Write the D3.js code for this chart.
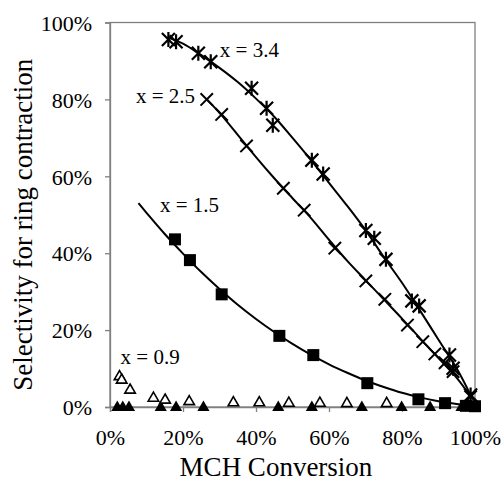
<!DOCTYPE html>
<html>
<head>
<meta charset="utf-8">
<script src="https://cdn.jsdelivr.net/npm/d3@7"></script>
<style>
  html, body { margin: 0; padding: 0; background: #fff; }
</style>
</head>
<body>
<svg id="chart" width="502" height="483"></svg>
<script>
// Tick values (percent)
const xTicks = [0, 20, 40, 60, 80, 100];
const yTicks = [0, 20, 40, 60, 80, 100];

// x = 3.4 (asterisks)
const conv34 = [16.0, 18.1, 24.2, 27.6, 38.8, 42.9, 44.6, 55.3, 58.4, 70.1, 72.4, 75.6, 82.7, 84.7, 93.0, 94.0, 98.8];
const sel34  = [95.6, 95.0, 92.0, 89.8, 82.9, 77.7, 73.3, 64.2, 60.6, 45.9, 43.9, 38.4, 27.6, 26.3, 13.5, 10.1, 3.1];
// x = 2.5 (crosses)
const conv25 = [26.5, 30.6, 37.4, 47.5, 53.2, 61.6, 70.1, 75.3, 81.5, 85.7, 89.0, 91.8, 94.0, 98.8];
const sel25  = [80.0, 76.1, 67.9, 56.9, 51.2, 41.3, 32.8, 28.0, 21.3, 17.0, 13.8, 11.5, 9.2, 2.7];
// x = 1.5 (filled squares)
const conv15 = [17.8, 21.9, 30.6, 46.4, 55.7, 70.5, 84.5, 91.8, 97.5, 100.0];
const sel15  = [43.6, 38.2, 29.3, 18.5, 13.5, 6.2, 2.0, 1.0, 0.3, 0.2];
// x = 0.9 (open triangles)
const conv09open = [2.6, 3.2, 5.5, 11.9, 15.1, 21.7, 33.8, 40.9, 49.0, 57.5, 64.9, 75.8];
const sel09open  = [7.9, 7.0, 4.4, 2.3, 1.8, 1.4, 1.1, 1.1, 1.0, 1.0, 0.9, 0.9];
// x = 0.9 (filled triangles)
const conv09fill = [2.0, 3.5, 5.2, 13.9, 18.1, 25.6, 46.1, 55.3, 69.0, 79.9, 87.7, 96.3, 98.8];
const sel09fill  = [0, 0, 0, 0, 0, 0, 0, 0, 0, 0, 0, 0, 0];

// Trend curves
const trend34x = [16, 20, 25, 30, 35, 40, 45, 50, 55, 60, 65, 70, 75, 80, 85, 90, 95, 98.8];
const trend34y = [96.0, 94.5, 91.5, 88.2, 84.5, 80.2, 75.5, 70.0, 64.3, 58.3, 52.3, 46.0, 39.0, 32.3, 25.0, 17.5, 10.0, 3.1];
const trend25x = [26.5, 30, 35, 40, 45, 50, 55, 60, 65, 70, 75, 80, 85, 90, 95, 98.8];
const trend25y = [80.0, 76.5, 70.8, 65.0, 59.5, 54.3, 49.2, 43.5, 38.0, 33.0, 28.0, 23.0, 17.8, 12.7, 7.6, 2.7];
const trend15x = [7.8, 10, 15, 20, 25, 30, 35, 40, 45, 50, 55, 60, 65, 70, 75, 80, 85, 90, 95, 100];
const trend15y = [53.0, 50.5, 45.0, 39.9, 35.1, 30.7, 26.6, 22.9, 19.5, 16.4, 13.6, 11.1, 8.9, 6.9, 5.2, 3.7, 2.5, 1.5, 0.8, 0.3];

// Series labels
const labelText = ["x = 3.4", "x = 2.5", "x = 1.5", "x = 0.9"];
const labelConv = [30.1, 7.1, 13.7, 2.9];
const labelSel  = [91.0, 79.1, 50.7, 11.2];

const FONT = "'Liberation Serif', 'DejaVu Serif', 'Times New Roman', Times, serif";

const svg = d3.select("#chart");
const W = 502, H = 483;
const m = { left: 110, right: 27, top: 22.5, bottom: 76 };
const x = d3.scaleLinear().domain([0, 100]).range([m.left, W - m.right]);
const y = d3.scaleLinear().domain([0, 100]).range([H - m.bottom, m.top]);
const pct = d => d + "%";

svg.append("rect").attr("width", W).attr("height", H).attr("fill", "#fff");

// Plot frame
const frameColor = "#808080";
svg.append("rect")
  .attr("x", x(0)).attr("y", y(100))
  .attr("width", x(100) - x(0)).attr("height", y(0) - y(100))
  .attr("fill", "none").attr("stroke", frameColor).attr("stroke-width", 1.3);

// Axes
const xAxis = svg.append("g")
  .attr("transform", `translate(0,${y(0)})`)
  .call(d3.axisBottom(x).tickValues(xTicks).tickFormat(pct).tickSize(5).tickPadding(17));
const yAxis = svg.append("g")
  .attr("transform", `translate(${x(0)},0)`)
  .call(d3.axisLeft(y).tickValues(yTicks).tickFormat(pct).tickSize(5).tickPadding(13));
[xAxis, yAxis].forEach(a => {
  a.attr("font-family", FONT).attr("font-size", 22);
  a.select(".domain").attr("stroke", frameColor).attr("stroke-width", 1.3);
  a.selectAll(".tick line").attr("stroke", frameColor).attr("stroke-width", 1.3);
  a.selectAll(".tick text").attr("fill", "#000");
});
yAxis.selectAll(".tick text").attr("dy", "0.35em");

// Axis titles
svg.append("text")
  .attr("x", 276).attr("y", 476)
  .attr("text-anchor", "middle")
  .attr("font-family", FONT).attr("font-size", 27)
  .text("MCH Conversion");
svg.append("text")
  .attr("transform", `translate(32,${(y(0) + y(100)) / 2 + 10}) rotate(-90)`)
  .attr("text-anchor", "middle")
  .attr("font-family", FONT).attr("font-size", 27)
  .text("Selectivity for ring contraction");

// Trend curves
const line = d3.line().x(d => x(d[0])).y(d => y(d[1])).curve(d3.curveCatmullRom);
const curves = [[trend34x, trend34y], [trend25x, trend25y], [trend15x, trend15y]];
svg.append("g").selectAll("path").data(curves).join("path")
  .attr("d", c => line(d3.zip(c[0], c[1])))
  .attr("fill", "none").attr("stroke", "#000").attr("stroke-width", 2);

// Markers
const pts = (xs, ys) => d3.zip(xs, ys);
const g = svg.append("g");

// filled triangles
g.selectAll(".tf").data(pts(conv09fill, sel09fill)).join("path")
  .attr("transform", d => `translate(${x(d[0])},${y(d[1]) + 0.5})`)
  .attr("d", d3.symbol(d3.symbolTriangle, 64)())
  .attr("fill", "#000");

// open triangles
g.selectAll(".to").data(pts(conv09open, sel09open)).join("path")
  .attr("transform", d => `translate(${x(d[0])},${y(d[1])})`)
  .attr("d", d3.symbol(d3.symbolTriangle, 48)())
  .attr("fill", "#fff").attr("stroke", "#000").attr("stroke-width", 1.6);

// squares
g.selectAll(".sq").data(pts(conv15, sel15)).join("path")
  .attr("transform", d => `translate(${x(d[0])},${y(d[1])})`)
  .attr("d", d3.symbol(d3.symbolSquare, 144)())
  .attr("fill", "#000");

// crosses
const cr = 6.2;
const crossPath = `M${-cr},${-cr}L${cr},${cr}M${-cr},${cr}L${cr},${-cr}`;
g.selectAll(".cx").data(pts(conv25, sel25)).join("path")
  .attr("transform", d => `translate(${x(d[0])},${y(d[1])})`)
  .attr("d", crossPath)
  .attr("fill", "none").attr("stroke", "#000").attr("stroke-width", 2);

// asterisks
const sr = 6.5;
const starPath = `M${-sr},${-sr}L${sr},${sr}M${-sr},${sr}L${sr},${-sr}M0,${-sr - 1}L0,${sr + 1}`;
g.selectAll(".st").data(pts(conv34, sel34)).join("path")
  .attr("transform", d => `translate(${x(d[0])},${y(d[1])})`)
  .attr("d", starPath)
  .attr("fill", "none").attr("stroke", "#000").attr("stroke-width", 2.2);

// Series labels
svg.append("g").attr("font-family", FONT).attr("font-size", 21)
  .selectAll("text").data(d3.range(labelText.length)).join("text")
  .attr("x", i => x(labelConv[i])).attr("y", i => y(labelSel[i]))
  .text(i => labelText[i]);
</script>
</body>
</html>
